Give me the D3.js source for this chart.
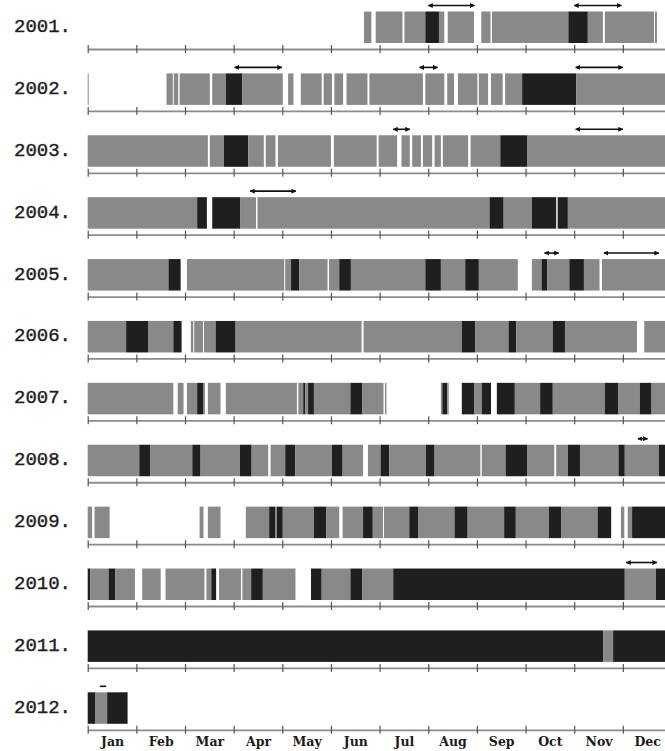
<!DOCTYPE html>
<html>
<head>
<meta charset="utf-8">
<script src="https://cdn.jsdelivr.net/npm/d3@7"></script>
<style>
  html, body { margin: 0; padding: 0; background: #fff; }
  svg { display: block; }
</style>
</head>
<body>
<svg id="chart"></svg>
<script>
// month positions are in fractional months from 1 Jan (0 = Jan 1, 12 = Dec 31)
const years = [2001, 2002, 2003, 2004, 2005, 2006, 2007, 2008, 2009, 2010, 2011, 2012];
const months = ["Jan", "Feb", "Mar", "Apr", "May", "Jun", "Jul", "Aug", "Sep", "Oct", "Nov", "Dec"];

// [start, end, kind]  g = grey, b = black
const seg2001 = [[5.68,5.83,"g"],[5.92,6.47,"g"],[6.51,6.94,"g"],[6.94,7.22,"b"],[7.22,7.33,"g"],[7.40,7.94,"g"],
  [8.09,8.28,"g"],[8.31,9.88,"g"],[9.88,10.28,"b"],[10.28,10.59,"g"],[10.63,11.64,"g"],[11.66,11.70,"g"]];
const seg2002 = [[0,0.02,"g"],[1.62,1.75,"g"],[1.77,1.86,"g"],[1.89,2.51,"g"],[2.56,2.84,"g"],[2.84,3.18,"b"],
  [3.18,4.01,"g"],[4.12,4.23,"g"],[4.38,4.81,"g"],[4.85,5.02,"g"],[5.07,5.25,"g"],[5.32,5.75,"g"],[5.79,6.89,"g"],
  [6.94,7.33,"g"],[7.39,7.53,"g"],[7.61,8.01,"g"],[8.04,8.23,"g"],[8.29,8.53,"g"],[8.58,8.93,"g"],[8.93,10.04,"b"],
  [10.04,12,"g"]];
const seg2003 = [[0,2.47,"g"],[2.51,2.80,"g"],[2.80,3.30,"b"],[3.30,3.62,"g"],[3.66,3.86,"g"],[3.91,5.00,"g"],
  [5.06,5.94,"g"],[5.98,6.36,"g"],[6.45,6.62,"g"],[6.67,6.85,"g"],[6.89,7.08,"g"],[7.13,7.26,"g"],[7.30,7.82,"g"],
  [7.87,8.48,"g"],[8.48,9.04,"b"],[9.04,12,"g"]];
const seg2004 = [[0,2.25,"g"],[2.25,2.45,"b"],[2.56,3.14,"b"],[3.14,3.46,"g"],[3.49,8.26,"g"],[8.26,8.55,"b"],
  [8.55,9.13,"g"],[9.13,9.63,"b"],[9.66,9.87,"b"],[9.87,12,"g"]];
const seg2005 = [[0,1.66,"g"],[1.66,1.91,"b"],[2.04,4.04,"g"],[4.06,4.18,"g"],[4.18,4.35,"b"],[4.35,4.93,"g"],
  [4.96,5.17,"g"],[5.17,5.41,"b"],[5.41,6.94,"g"],[6.94,7.26,"b"],[7.26,7.76,"g"],[7.76,8.04,"b"],[8.04,8.84,"g"],
  [9.13,9.33,"g"],[9.33,9.45,"b"],[9.45,9.90,"g"],[9.90,10.20,"b"],[10.20,10.52,"g"],[10.57,12,"g"]];
const seg2006 = [[0,0.79,"g"],[0.79,1.24,"b"],[1.24,1.76,"g"],[1.76,1.93,"b"],[2.12,2.17,"g"],[2.19,2.37,"g"],
  [2.39,2.63,"g"],[2.63,3.04,"b"],[3.04,5.63,"g"],[5.67,7.69,"g"],[7.69,7.97,"b"],[7.97,8.65,"g"],[8.65,8.81,"b"],
  [8.81,9.56,"g"],[9.56,9.81,"b"],[9.81,11.29,"g"],[11.44,12,"g"]];
const seg2007 = [[0,1.76,"g"],[1.85,1.97,"g"],[2.04,2.25,"g"],[2.25,2.37,"b"],[2.37,2.41,"g"],[2.47,2.73,"g"],
  [2.84,4.30,"g"],[4.33,4.43,"g"],[4.43,4.47,"b"],[4.47,4.53,"g"],[4.53,4.65,"b"],[4.65,5.40,"g"],[5.40,5.64,"b"],
  [5.64,6.08,"g"],[6.11,6.14,"g"],[7.26,7.29,"g"],[7.29,7.39,"b"],[7.39,7.42,"g"],[7.69,7.95,"b"],[7.95,8.10,"g"],
  [8.10,8.29,"b"],[8.41,8.78,"b"],[8.78,9.30,"g"],[9.30,9.56,"b"],[9.56,10.63,"g"],[10.63,10.91,"b"],
  [10.91,11.35,"g"],[11.35,11.59,"b"],[11.59,12,"g"]];
const seg2008 = [[0,1.06,"g"],[1.06,1.29,"b"],[1.29,2.15,"g"],[2.15,2.32,"b"],[2.32,3.13,"g"],[3.13,3.37,"b"],
  [3.37,3.71,"g"],[3.76,4.06,"g"],[4.06,4.27,"b"],[4.27,5.02,"g"],[5.02,5.24,"b"],[5.24,5.66,"g"],[5.76,6.02,"g"],
  [6.02,6.20,"b"],[6.20,6.95,"g"],[6.95,7.13,"b"],[7.13,8.07,"g"],[8.10,8.59,"g"],[8.59,9.04,"b"],[9.04,9.59,"g"],
  [9.63,9.87,"g"],[9.87,10.12,"b"],[10.12,10.91,"g"],[10.91,11.04,"b"],[11.04,11.74,"g"],[11.74,12,"b"]];
const seg2009 = [[0,0.09,"g"],[0.14,0.45,"g"],[2.30,2.38,"g"],[2.47,2.73,"g"],[3.25,3.73,"g"],[3.73,3.85,"b"],
  [3.85,3.89,"g"],[3.89,4.01,"b"],[4.01,4.65,"g"],[4.65,4.90,"b"],[4.90,5.17,"g"],[5.24,5.66,"g"],[5.66,5.86,"b"],
  [5.86,6.07,"g"],[6.09,6.61,"g"],[6.61,6.80,"b"],[6.80,7.54,"g"],[7.54,7.81,"b"],[7.81,8.56,"g"],[8.56,8.80,"b"],
  [8.80,9.48,"g"],[9.48,9.73,"b"],[9.73,10.48,"g"],[10.48,10.76,"b"],[10.96,11.03,"g"],[11.10,11.19,"g"],
  [11.19,12,"b"]];
const seg2010 = [[0,0.05,"b"],[0.05,0.43,"g"],[0.43,0.57,"b"],[0.57,0.97,"g"],[1.12,1.50,"g"],[1.60,2.40,"g"],
  [2.44,2.54,"g"],[2.54,2.64,"b"],[2.70,3.15,"g"],[3.18,3.36,"g"],[3.36,3.60,"b"],[3.60,4.27,"g"],[4.59,4.81,"b"],
  [4.81,5.40,"g"],[5.40,5.64,"b"],[5.64,6.28,"g"],[6.28,11.04,"b"],[11.04,11.68,"g"],[11.68,12,"b"]];
const seg2011 = [[0,10.60,"b"],[10.60,10.80,"g"],[10.80,12,"b"]];
const seg2012 = [[0,0.16,"b"],[0.16,0.40,"g"],[0.40,0.82,"b"]];

// double-headed arrows above the bars [start, end]
const arr2001 = [[7.0,7.95],[10.0,10.97]];
const arr2002 = [[3.02,3.99],[6.82,7.19],[10.03,11.0]];
const arr2003 = [[6.28,6.62],[10.03,11.0]];
const arr2004 = [[3.34,4.28]];
const arr2005 = [[9.39,9.68],[10.61,11.74]];
const arr2008 = [[11.31,11.51]];
const arr2010 = [[11.07,11.70]];
const arr2012 = [[0.25,0.38]];

const segments = [seg2001, seg2002, seg2003, seg2004, seg2005, seg2006, seg2007, seg2008, seg2009, seg2010, seg2011, seg2012];
const arrows = [arr2001, arr2002, arr2003, arr2004, arr2005, [], [], arr2008, [], arr2010, [], arr2012];

const width = 665, height = 751;
const colors = {g: "#898989", b: "#211e1f"};

const svg = d3.select("#chart")
    .attr("width", width)
    .attr("height", height);

const x = d3.scaleLinear()
    .domain([0, 12])
    .range([87.7, 671.5]);

const y = d3.scalePoint()
    .domain(years)
    .range([49, 729.8]);

const barTop = 37.5, barBottom = 6;

const defs = svg.append("defs");
["start", "end"].forEach(k => {
    defs.append("marker")
        .attr("id", "head-" + k)
        .attr("viewBox", "0 0 10 10")
        .attr("refX", k === "end" ? 9 : 1)
        .attr("refY", 5)
        .attr("markerWidth", 5)
        .attr("markerHeight", 5)
        .attr("markerUnits", "userSpaceOnUse")
        .attr("orient", "auto")
      .append("path")
        .attr("d", k === "end" ? "M0,0L10,5L0,10z" : "M10,0L0,5L10,10z")
        .attr("fill", "#111");
});

years.forEach((year, i) => {
    const ay = y(year);
    const row = svg.append("g").attr("class", "row");

    // year label
    row.append("text")
        .attr("x", 14)
        .attr("y", ay - 17)
        .attr("font-family", "'Liberation Mono', 'DejaVu Sans Mono', monospace")
        .attr("font-size", 19)
        .attr("fill", "#1e1e1e")
        .attr("stroke", "#1e1e1e")
        .attr("stroke-width", 0.4)
        .text(year + ".");

    // bars
    row.selectAll("rect")
        .data(segments[i])
        .enter().append("rect")
        .attr("x", d => x(d[0]))
        .attr("y", ay - barTop)
        .attr("width", d => Math.max(0.8, x(d[1]) - x(d[0])))
        .attr("height", barTop - barBottom)
        .attr("fill", d => colors[d[2]]);

    // arrows
    row.selectAll("line.arrow")
        .data(arrows[i])
        .enter().append("line")
        .attr("class", "arrow")
        .attr("x1", d => x(d[0]))
        .attr("x2", d => x(d[1]))
        .attr("y1", ay - 43.5)
        .attr("y2", ay - 43.5)
        .attr("stroke", "#111")
        .attr("stroke-width", 1.6)
        .attr("marker-start", d => (d[1] - d[0]) > 0.15 ? "url(#head-start)" : null)
        .attr("marker-end", d => (d[1] - d[0]) > 0.15 ? "url(#head-end)" : null);

    // axis
    const axis = d3.axisBottom(x)
        .tickValues(d3.range(0, 13))
        .tickFormat("")
        .tickSizeOuter(0)
        .tickSizeInner(4);

    row.append("g")
        .attr("transform", `translate(0,${ay})`)
        .call(axis)
        .call(g => g.select(".domain").attr("stroke", "#8c8c8c").attr("stroke-width", 1.8))
        .call(g => g.selectAll(".tick line")
            .attr("y1", -4).attr("y2", 4)
            .attr("stroke", "#555").attr("stroke-width", 1.2));
});

// month labels under the last axis
const monthAxis = d3.axisBottom(x)
    .tickValues(d3.range(0, 12).map(m => m + 0.5))
    .tickFormat((d, i) => months[i])
    .tickSize(0)
    .tickPadding(0);

svg.append("g")
    .attr("transform", `translate(0,${y(2012) + 7})`)
    .call(monthAxis)
    .call(g => g.select(".domain").remove())
    .call(g => g.selectAll("text")
        .attr("font-family", "'DejaVu Serif', serif")
        .attr("font-weight", "bold")
        .attr("font-size", 12.5)
        .attr("fill", "#1a1a1a"));
</script>
</body>
</html>
